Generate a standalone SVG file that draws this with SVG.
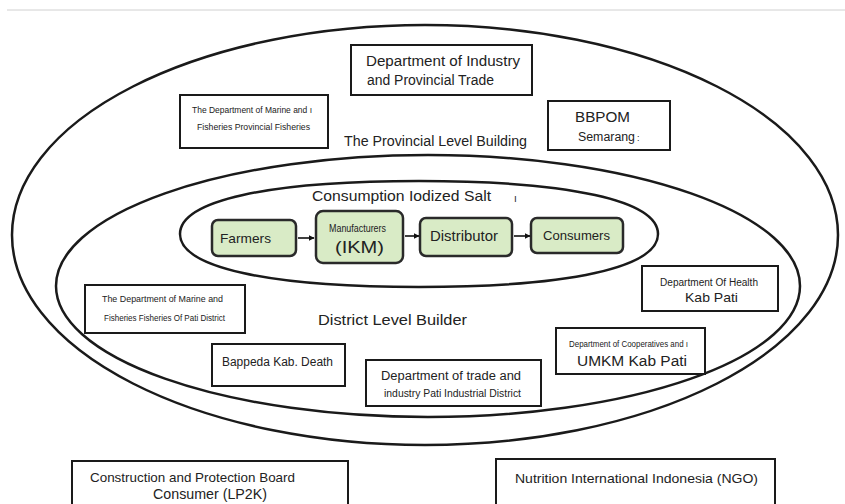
<svg xmlns="http://www.w3.org/2000/svg" width="845" height="504" viewBox="0 0 845 504">
  <style>
    text { font-family: "Liberation Sans", Arial, sans-serif; fill: #222; }
    .ring { fill: none; stroke: #1a1a1a; stroke-width: 2.5; }
    .box { fill: #fff; stroke: #1a1a1a; stroke-width: 2; }
    .step { fill: #d9ebc6; stroke: #2a2a2a; stroke-width: 2.5; }
    .link { stroke: #111; stroke-width: 1.6; fill: none; marker-end: url(#head); }
  </style>
  <defs>
    <marker id="head" viewBox="0 0 10 10" refX="9" refY="5" markerWidth="6" markerHeight="6" orient="auto" markerUnits="userSpaceOnUse">
      <path d="M0,0 L10,5 L0,10 z" fill="#111"/>
    </marker>
  </defs>

  <rect width="845" height="504" fill="#fff"/>
  <line x1="7" y1="10" x2="845" y2="10" stroke="#d0d0d0" stroke-width="1"/>

  <!-- nested levels: province, district, salt chain -->
  <ellipse class="ring" cx="425" cy="235" rx="413" ry="210"/>
  <ellipse class="ring" cx="428" cy="286" rx="372" ry="131"/>
  <path class="ring" d="M180,234 C180,200.6 268.4,181 419,181 C569.6,181 658,200.6 658,234 C658,267.4 569.6,287 419,287 C268.4,287 180,267.4 180,234 Z"/>

  <text x="344" y="146" font-size="14" textLength="183" lengthAdjust="spacingAndGlyphs">The Provincial Level Building</text>
  <text x="318" y="325" font-size="14.5" textLength="149" lengthAdjust="spacingAndGlyphs">District Level Builder</text>
  <text x="312" y="201" font-size="15" textLength="179" lengthAdjust="spacingAndGlyphs">Consumption Iodized Salt</text>
  <text x="514" y="202" font-size="10">ı</text>

  <!-- provincial agencies -->
  <g id="dept-industry">
    <rect class="box" x="351" y="45" width="181" height="50"/>
    <text x="366" y="66" font-size="14" textLength="154" lengthAdjust="spacingAndGlyphs">Department of Industry</text>
    <text x="367" y="85" font-size="14" textLength="127" lengthAdjust="spacingAndGlyphs">and Provincial Trade</text>
  </g>
  <g id="marine-provincial">
    <rect class="box" x="180" y="95" width="148" height="53"/>
    <text x="192" y="113" font-size="9" textLength="120" lengthAdjust="spacingAndGlyphs">The Department of Marine and ı</text>
    <text x="197" y="130" font-size="9" textLength="113" lengthAdjust="spacingAndGlyphs">Fisheries Provincial Fisheries</text>
  </g>
  <g id="bbpom">
    <rect class="box" x="548" y="101" width="122" height="49"/>
    <text x="575" y="122" font-size="15" textLength="55" lengthAdjust="spacingAndGlyphs">BBPOM</text>
    <text x="578" y="141" font-size="12" textLength="57" lengthAdjust="spacingAndGlyphs">Semarang</text>
    <text x="637" y="141" font-size="9" fill="#bbb">:</text>
  </g>

  <!-- supply chain -->
  <g id="farmers">
    <rect class="step" x="212" y="220" width="84" height="36" rx="6"/>
    <text x="220" y="243" font-size="13.5" textLength="51" lengthAdjust="spacingAndGlyphs">Farmers</text>
  </g>
  <g id="manufacturers">
    <rect class="step" x="316" y="211" width="87" height="52" rx="7"/>
    <text x="329" y="232" font-size="10" textLength="57" lengthAdjust="spacingAndGlyphs">Manufacturers</text>
    <text x="335" y="253" font-size="17" textLength="49" lengthAdjust="spacingAndGlyphs">(IKM)</text>
  </g>
  <g id="distributor">
    <rect class="step" x="420" y="218" width="92" height="38" rx="6"/>
    <text x="430" y="241" font-size="14" textLength="68" lengthAdjust="spacingAndGlyphs">Distributor</text>
  </g>
  <g id="consumers">
    <rect class="step" x="531" y="218" width="92" height="35" rx="6"/>
    <text x="543" y="240" font-size="13" textLength="67" lengthAdjust="spacingAndGlyphs">Consumers</text>
  </g>
  <g id="connectors">
    <line class="link" x1="298" y1="238" x2="314" y2="238"/>
    <line class="link" x1="405" y1="236" x2="419" y2="236"/>
    <line class="link" x1="514" y1="236" x2="530" y2="236"/>
  </g>

  <!-- district agencies -->
  <g id="marine-district">
    <rect class="box" x="85" y="285" width="160" height="48"/>
    <text x="102" y="302" font-size="9" textLength="121" lengthAdjust="spacingAndGlyphs">The Department of Marine and</text>
    <text x="104" y="321" font-size="9" textLength="121" lengthAdjust="spacingAndGlyphs">Fisheries Fisheries Of Pati District</text>
  </g>
  <g id="health">
    <rect class="box" x="642" y="266" width="136" height="45"/>
    <text x="660" y="286" font-size="10" textLength="98" lengthAdjust="spacingAndGlyphs">Department Of Health</text>
    <text x="685" y="302" font-size="13.5" textLength="53" lengthAdjust="spacingAndGlyphs">Kab Pati</text>
  </g>
  <g id="bappeda">
    <rect class="box" x="212" y="344" width="133" height="42"/>
    <text x="222" y="366" font-size="12" textLength="111" lengthAdjust="spacingAndGlyphs">Bappeda Kab. Death</text>
  </g>
  <g id="trade">
    <rect class="box" x="366" y="360" width="175" height="46"/>
    <text x="381" y="380" font-size="12" textLength="140" lengthAdjust="spacingAndGlyphs">Department of trade and</text>
    <text x="384" y="397" font-size="11" textLength="137" lengthAdjust="spacingAndGlyphs">industry Pati Industrial District</text>
  </g>
  <g id="cooperatives">
    <rect class="box" x="556" y="328" width="149" height="46"/>
    <text x="569" y="347" font-size="9" textLength="119" lengthAdjust="spacingAndGlyphs">Department of Cooperatives and ı</text>
    <text x="577" y="366" font-size="14" textLength="110" lengthAdjust="spacingAndGlyphs">UMKM Kab Pati</text>
  </g>

  <!-- outside bodies -->
  <g id="lp2k">
    <rect class="box" x="72" y="461" width="276" height="50"/>
    <text x="90" y="482" font-size="13" textLength="205" lengthAdjust="spacingAndGlyphs">Construction and Protection Board</text>
    <text x="153" y="499" font-size="14" textLength="114" lengthAdjust="spacingAndGlyphs">Consumer (LP2K)</text>
  </g>
  <g id="ngo">
    <rect class="box" x="496" y="459" width="279" height="52"/>
    <text x="515" y="483" font-size="13" textLength="243" lengthAdjust="spacingAndGlyphs">Nutrition International Indonesia (NGO)</text>
  </g>
</svg>
